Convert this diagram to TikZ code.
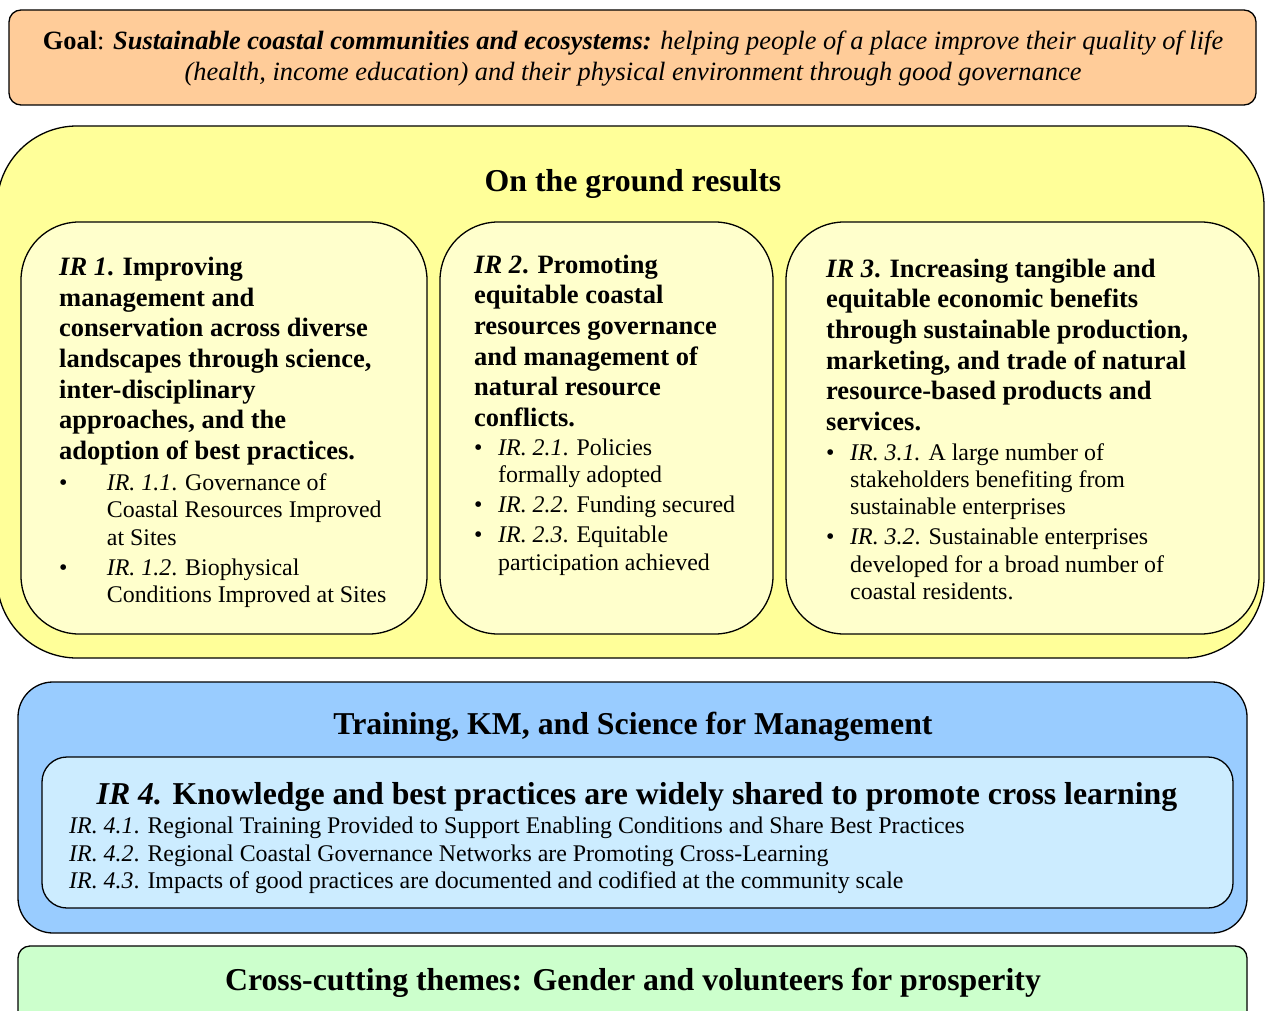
\documentclass[tikz,border=0pt]{standalone}
\usepackage{fontspec}
\setmainfont{Liberation Serif}
\usepackage{array}

\definecolor{goalfill}{HTML}{FFCC99}
\definecolor{groundfill}{HTML}{FFFF99}
\definecolor{irfill}{HTML}{FFFFCC}
\definecolor{trainfill}{HTML}{99CCFF}
\definecolor{irfourfill}{HTML}{CCECFF}
\definecolor{crossfill}{HTML}{CCFFCC}

\newcommand{\irbullet}[1]{\makebox[#1][l]{\textbullet}}

\tikzset{
        box/.style={draw, line width=1.3pt, inner sep=0pt},
        titletext/.style={anchor=base, inner sep=0pt, font=\fontsize{31.8}{36}\selectfont\bfseries},
        goaltext/.style={anchor=base, inner sep=0pt, font=\fontsize{26.4}{31}\selectfont},
        headtext/.style={anchor=base west, inner sep=0pt, font=\fontsize{26.5}{30.7}\selectfont\bfseries},
        listtext/.style={anchor=base west, inner sep=0pt, font=\fontsize{23.9}{27.4}\selectfont}
}

\begin{document}
\begin{tikzpicture}[x=1pt, y=-1pt]
        \useasboundingbox (0,0) rectangle (1266,1011);
        \clip (0,0) rectangle (1266,1011);

        \node[box, fill=goalfill, rounded corners=12pt, minimum width=1247pt, minimum height=95pt] (goal) at (632.5,57.5) {};
        \node[box, fill=groundfill, rounded corners=80pt, minimum width=1267pt, minimum height=532pt] (ground) at (630.5,392) {};
        \node[box, fill=irfill, rounded corners=58pt, minimum width=406pt, minimum height=412pt] (irone) at (224,428) {};
        \node[box, fill=irfill, rounded corners=58pt, minimum width=333pt, minimum height=412pt] (irtwo) at (606.5,428) {};
        \node[box, fill=irfill, rounded corners=58pt, minimum width=473pt, minimum height=412pt] (irthree) at (1022.5,428) {};
        \node[box, fill=trainfill, rounded corners=35pt, minimum width=1229pt, minimum height=251pt] (train) at (632.5,807.5) {};
        \node[box, fill=irfourfill, rounded corners=25pt, minimum width=1191pt, minimum height=151pt] (irfour) at (637.5,832.5) {};
        \node[box, fill=crossfill, rounded corners=12pt, minimum width=1229pt, minimum height=84pt] (cross) at (632.5,988) {};

        \node[goaltext] (goaltxt) at (633,50) {\begin{tabular}[t]{@{}c@{}}
                \textbf{Goal}: \textbf{\textit{Sustainable coastal communities and ecosystems:}} \textit{helping people of a place improve their quality of life}\\
                \textit{(health, income education) and their physical environment through good governance}
        \end{tabular}};

        \node[titletext] (groundtxt) at (633,192) {On the ground results};

        \node[headtext] (ironehead) at (59,275.5) {\begin{tabular}[t]{@{}l@{}}
                \textit{IR 1}. Improving\\
                management and\\
                conservation across diverse\\
                landscapes through science,\\
                inter-disciplinary\\
                approaches, and the\\
                adoption of best practices.
        \end{tabular}};
        \node[listtext] (ironelist) at (59,490.5) {\begin{tabular}[t]{@{}l@{}l@{}}
                \irbullet{47.7pt} & \textit{IR. 1.1}. Governance of\\
                & Coastal Resources Improved\\
                & at Sites\\[2.5pt]
                \irbullet{47.7pt} & \textit{IR. 1.2}. Biophysical\\
                & Conditions Improved at Sites
        \end{tabular}};

        \node[headtext] (irtwohead) at (474,273) {\begin{tabular}[t]{@{}l@{}}
                \textit{IR 2}. Promoting\\
                equitable coastal\\
                resources governance\\
                and management of\\
                natural resource\\
                conflicts.
        \end{tabular}};
        \node[listtext] (irtwolist) at (474,455.5) {\begin{tabular}[t]{@{}l@{}l@{}}
                \irbullet{24pt} & \textit{IR. 2.1}. Policies\\
                & formally adopted\\[2.5pt]
                \irbullet{24pt} & \textit{IR. 2.2}. Funding secured\\[2.5pt]
                \irbullet{24pt} & \textit{IR. 2.3}. Equitable\\
                & participation achieved
        \end{tabular}};

        \node[headtext] (irthreehead) at (826,277) {\begin{tabular}[t]{@{}l@{}}
                \textit{IR 3}. Increasing tangible and\\
                equitable economic benefits\\
                through sustainable production,\\
                marketing, and trade of natural\\
                resource-based products and\\
                services.
        \end{tabular}};
        \node[listtext] (irthreelist) at (826,460) {\begin{tabular}[t]{@{}l@{}l@{}}
                \irbullet{24pt} & \textit{IR. 3.1.} A large number of\\
                & stakeholders benefiting from\\
                & sustainable enterprises\\[2.5pt]
                \irbullet{24pt} & \textit{IR. 3.2}. Sustainable enterprises\\
                & developed for a broad number of\\
                & coastal residents.
        \end{tabular}};

        \node[titletext] (traintxt) at (633,734) {Training, KM, and Science for Management};
        \node[titletext] (irfourhead) at (637,804) {\textit{IR 4.} Knowledge and best practices are widely shared to promote cross learning};
        \node[listtext, font=\fontsize{23.9}{27.5}\selectfont] (irfourlist) at (69,833.5) {\begin{tabular}[t]{@{}l@{}}
                \textit{IR. 4.1}. Regional Training Provided to Support Enabling Conditions and Share Best Practices\\
                \textit{IR. 4.2}. Regional Coastal Governance Networks are Promoting Cross-Learning\\
                \textit{IR. 4.3}. Impacts of good practices are documented and codified at the community scale
        \end{tabular}};

        \node[titletext] (crosstxt) at (633,990) {Cross-cutting themes: Gender and volunteers for prosperity};
\end{tikzpicture}
\end{document}
